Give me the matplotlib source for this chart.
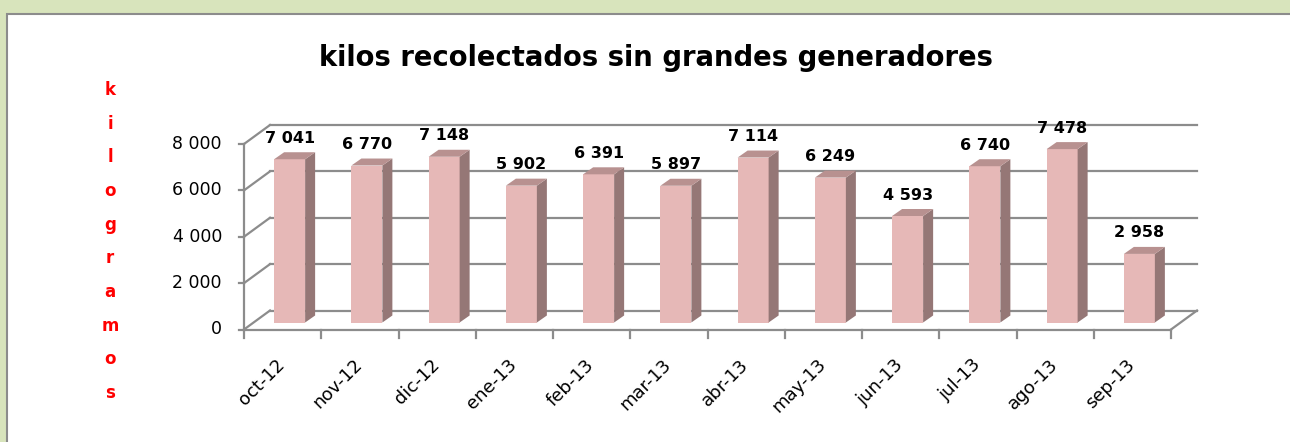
import numpy as np
import matplotlib
matplotlib.use("Agg")
import matplotlib.pyplot as plt
from matplotlib.patches import Polygon, Rectangle

# data
months = ['oct-12', 'nov-12', 'dic-12', 'ene-13', 'feb-13', 'mar-13',
          'abr-13', 'may-13', 'jun-13', 'jul-13', 'ago-13', 'sep-13']
kilos = [7041, 6770, 7148, 5902, 6391, 5897, 7114, 6249, 4593, 6740, 7478, 2958]
yticks = [0, 2000, 4000, 6000, 8000]
title = 'kilos recolectados sin grandes generadores'
ylabel = 'kilogramos'

W, H = 1290, 442
fig = plt.figure(figsize=(W / 100, H / 100), dpi=100)
fig.patch.set_facecolor('#d8e4bc')

# white chart panel with grey border
panel = Rectangle((7 / W, -0.2), 1.2, (H - 14) / H + 0.2, transform=fig.transFigure,
                  facecolor='white', edgecolor='#8c8c8c', lw=1.5, zorder=0)
fig.add_artist(panel)

# front plane of the 3d box: x 244..1171 px, y 329.5 (0) .. 144 (8000) px
x0, x1 = 244, 1171
y0, y8 = 329.5, 144
ax = fig.add_axes([x0 / W, (H - y0) / H, (x1 - x0) / W, (y0 - y8) / H])
ax.set_xlim(0, len(months))
ax.set_ylim(0, 8000)
ax.axis('off')

px_x = len(months) / (x1 - x0)   # category units per pixel
px_y = 8000 / (y0 - y8)          # value units per pixel

DX, DY = 26 * px_x, 19 * px_y          # depth of the box
bw = 31 * px_x                          # bar width
sx, sy = 10 * px_x, 7 * px_y            # bar depth
ox, oy = 7 * px_x, 7 * px_y             # bar front plane offset

grid_c = '#8c8c8c'
lw = 1.6

# walls
for v in yticks:
    ax.plot([DX, len(months) + DX], [v + DY, v + DY], color=grid_c, lw=lw, clip_on=False, zorder=1)
    ax.plot([0, DX], [v, v + DY], color=grid_c, lw=lw, clip_on=False, zorder=1)
    ax.plot([-5 * px_x, 0], [v, v], color=grid_c, lw=lw, clip_on=False, zorder=1)
    ax.text(-22 * px_x, v, f'{v:,}'.replace(',', ' '), ha='right', va='center',
            fontsize=12.5, color='black')
ax.plot([0, 0], [0, 8000], color=grid_c, lw=lw, clip_on=False, zorder=1)
ax.plot([0, len(months)], [0, 0], color=grid_c, lw=lw, clip_on=False, zorder=1)
ax.plot([len(months), len(months) + DX], [0, DY], color=grid_c, lw=lw, clip_on=False, zorder=1)
for i in range(len(months) + 1):
    ax.plot([i, i], [0, -8 * px_y], color=grid_c, lw=lw, clip_on=False, zorder=1)

# bars
front_c, side_c, top_c = '#e6b8b7', '#957776', '#b89190'
xs = np.arange(len(months)) + 0.5 + ox
ax.bar(xs, kilos, width=bw, bottom=oy, color=front_c, edgecolor='none', zorder=3, clip_on=False)
for x, v in zip(xs, kilos):
    r = x + bw / 2
    l = x - bw / 2
    top = v + oy
    ax.add_patch(Polygon([(r, oy), (r + sx, oy + sy), (r + sx, top + sy), (r, top)],
                         closed=True, facecolor=side_c, edgecolor='none', zorder=3, clip_on=False))
    ax.add_patch(Polygon([(l, top), (r, top), (r + sx, top + sy), (l + sx, top + sy)],
                         closed=True, facecolor=top_c, edgecolor='none', zorder=3, clip_on=False))
    ax.text(x, v + 1010, f'{v:,}'.replace(',', ' '), ha='center', va='baseline',
            fontsize=11.5, fontweight='bold', color='black', zorder=4)

# category labels
for i, m in enumerate(months):
    ax.text(i + 0.5 + 6 * px_x, -26 * px_y, m, rotation=45, ha='right', va='top',
            fontsize=13, color='black')

fig.text(655.5 / W, 1 - 58 / H, title, ha='center', va='center',
         fontsize=19.8, fontweight='bold', color='black')

# vertical red axis title, one letter per line
ys = np.linspace(90, 393, len(ylabel))
for ch, yy in zip(ylabel, ys):
    fig.text(110 / W, 1 - yy / H, ch, ha='center', va='center',
             fontsize=12, fontweight='bold', color='#ff0000')

fig.savefig('out.png', dpi=100)
